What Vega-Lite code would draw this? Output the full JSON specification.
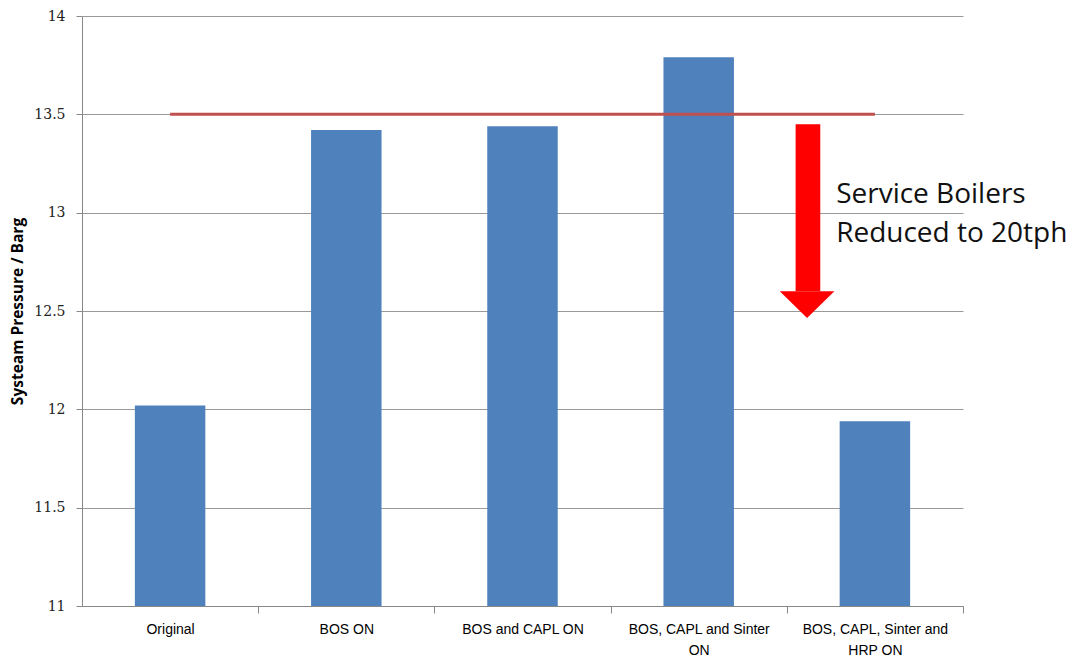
{
  "$schema": "https://vega.github.io/schema/vega-lite/v6.json",
  "width": 881,
  "height": 590,
  "autosize": {"type": "none"},
  "padding": {"left": 82, "top": 16, "right": 115, "bottom": 54},
  "background": "white",
  "config": {"view": {"stroke": null}},
  "datasets": {
    "bars": [
      {"scenario": "Original", "pressure": 12.02},
      {"scenario": "BOS ON", "pressure": 13.42},
      {"scenario": "BOS and CAPL ON", "pressure": 13.44},
      {"scenario": "BOS, CAPL and Sinter ON", "pressure": 13.79},
      {"scenario": "BOS, CAPL, Sinter and HRP ON", "pressure": 11.94}
    ],
    "limit": [{"x": 0.5, "x2": 4.5, "y": 13.5}],
    "shaft": [{"x": 4.05, "x2": 4.19, "y": 13.45, "y2": 12.6}],
    "head": [
      {"x": 3.96, "y": 12.6, "y2": 12.6},
      {"x": 4.115, "y": 12.6, "y2": 12.465},
      {"x": 4.27, "y": 12.6, "y2": 12.6}
    ],
    "note": [
      {"x": 4.28, "y": 13.09, "text": "Service Boilers"},
      {"x": 4.28, "y": 12.893, "text": "Reduced to 20tph"}
    ]
  },
  "layer": [
    {
      "data": {"name": "bars"},
      "mark": {"type": "bar", "color": "#4f81bd", "clip": true},
      "encoding": {
        "x": {
          "field": "scenario", "type": "nominal", "sort": null,
          "scale": {"paddingInner": 0.6, "paddingOuter": 0.3},
          "axis": {
            "title": null, "labelAngle": 0,
            "bandPosition": 0.5, "tickOffset": 88.1, "labelOffset": -88.1,
            "domainColor": "#888888", "tickColor": "#888888", "tickSize": 7,
            "labelFont": "Liberation Sans", "labelFontSize": 14, "labelColor": "#000000",
            "labelPadding": 9, "labelLimit": 200, "labelLineHeight": 21,
            "labelExpr": "datum.label == 'BOS, CAPL and Sinter ON' ? ['BOS, CAPL and Sinter', 'ON'] : datum.label == 'BOS, CAPL, Sinter and HRP ON' ? ['BOS, CAPL, Sinter and', 'HRP ON'] : datum.label"
          }
        },
        "y": {
          "field": "pressure", "type": "quantitative",
          "scale": {"domain": [11, 14], "zero": false},
          "axis": {
            "title": "Systeam Pressure / Barg",
            "values": [11, 11.5, 12, 12.5, 13, 13.5, 14],
            "format": "~g",
            "grid": true, "gridColor": "#999999",
            "domainColor": "#888888", "tickColor": "#888888", "tickSize": 6,
            "labelFont": "DejaVu Serif", "labelFontSize": 14, "labelColor": "#222222",
            "labelPadding": 11,
            "titleFont": "Open Sans", "titleFontSize": 15.5, "titleFontWeight": "bold",
            "titleColor": "#000000", "titlePadding": 8
          }
        }
      }
    },
    {
      "data": {"name": "limit"},
      "mark": {"type": "rule", "color": "#c0504d", "strokeWidth": 3},
      "encoding": {
        "x": {"field": "x", "type": "quantitative", "scale": {"domain": [0, 5]}, "axis": null},
        "x2": {"field": "x2"},
        "y": {"field": "y", "type": "quantitative"}
      }
    },
    {
      "data": {"name": "shaft"},
      "mark": {"type": "rect", "color": "#ff0000"},
      "encoding": {
        "x": {"field": "x", "type": "quantitative", "scale": {"domain": [0, 5]}, "axis": null},
        "x2": {"field": "x2"},
        "y": {"field": "y", "type": "quantitative"},
        "y2": {"field": "y2"}
      }
    },
    {
      "data": {"name": "head"},
      "mark": {"type": "area", "color": "#ff0000", "opacity": 1},
      "encoding": {
        "x": {"field": "x", "type": "quantitative", "scale": {"domain": [0, 5]}, "axis": null},
        "y": {"field": "y", "type": "quantitative"},
        "y2": {"field": "y2"}
      }
    },
    {
      "data": {"name": "note"},
      "mark": {"type": "text", "align": "left", "baseline": "middle", "font": "Open Sans", "fontSize": 28, "color": "#111111"},
      "encoding": {
        "x": {"field": "x", "type": "quantitative", "scale": {"domain": [0, 5]}, "axis": null},
        "y": {"field": "y", "type": "quantitative"},
        "text": {"field": "text"}
      }
    }
  ],
  "resolve": {"scale": {"x": "independent"}}
}
